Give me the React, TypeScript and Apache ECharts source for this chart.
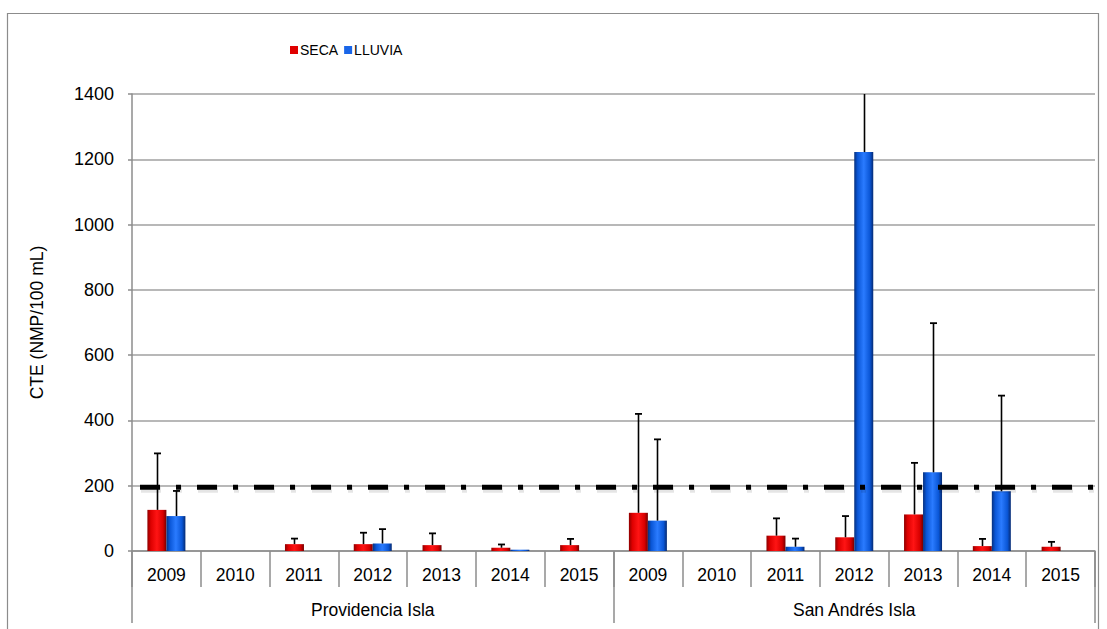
import React, { useEffect, useRef } from "react";
import * as echarts from "echarts";

// Sampling sites and years (two-level category axis)
const sites = ["Providencia Isla", "San Andrés Isla"];
const years = ["2009", "2010", "2011", "2012", "2013", "2014", "2015"];

// Mean CTE (NMP/100 mL) per site-year, Providencia first then San Andrés
const secaMean = [126, 0, 21, 21, 18, 10, 18, 117, 0, 47, 42, 112, 15, 13];
const secaSd = [173, 0, 17, 35, 36, 10, 19, 303, 0, 53, 65, 158, 22, 15];
const lluviaMean = [107, 0, 0, 23, 0, 4, 0, 93, 0, 13, 1222, 241, 183, 0];
const lluviaSd = [77, 0, 0, 44, 0, 0, 0, 249, 0, 25, 500, 457, 293, 0];

// Reference limit line
const limitValue = 200;

// Y axis ticks
const yMin = 0;
const yMax = 1400;
const yStep = 200;

const FONT = "Liberation Sans, Arial, sans-serif";
const BAR_W = 19;
const LIMIT_DASH = [20, 16, 5, 16];

const categories = sites.flatMap((s) => years.map((y) => `${s}|${y}`));

const redFill = new echarts.graphic.LinearGradient(0, 0, 1, 0, [
  { offset: 0, color: "#8e0000" },
  { offset: 0.18, color: "#dd0000" },
  { offset: 0.5, color: "#ff1414" },
  { offset: 0.82, color: "#d80000" },
  { offset: 1, color: "#760000" },
]);
const blueFill = new echarts.graphic.LinearGradient(0, 0, 1, 0, [
  { offset: 0, color: "#06307e" },
  { offset: 0.18, color: "#0a56d6" },
  { offset: 0.5, color: "#2a7bff" },
  { offset: 0.82, color: "#0a56d6" },
  { offset: 1, color: "#052a72" },
]);

function errorSeries(name: string, means: number[], sds: number[], offset: number) {
  return {
    type: "custom",
    name,
    xAxisIndex: 0,
    yAxisIndex: 0,
    clip: true,
    z: 5,
    silent: true,
    encode: { x: 0, y: 1 },
    data: means.map((m, i) => [i, m, m + sds[i]]),
    renderItem: (_params: any, api: any) => {
      const idx = api.value(0);
      const mean = api.value(1);
      const upper = api.value(2);
      if (!(upper > mean)) return null;
      const base = api.coord([idx, mean]);
      const top = api.coord([idx, upper]);
      const x = Math.round(base[0] + offset) + 0.5;
      return {
        type: "group",
        children: [
          {
            type: "line",
            shape: { x1: x, y1: base[1], x2: x, y2: top[1] },
            style: { stroke: "#000", lineWidth: 1.6 },
          },
          {
            type: "line",
            shape: { x1: x - 3.5, y1: top[1], x2: x + 3.5, y2: top[1] },
            style: { stroke: "#000", lineWidth: 1.8 },
          },
        ],
      };
    },
  };
}

export default function App() {
  const ref = useRef<HTMLDivElement>(null);

  useEffect(() => {
    document.body.style.margin = "0";
    if (!ref.current) return;
    const chart = echarts.init(ref.current, undefined, { renderer: "svg" });

    chart.setOption({
      animation: false,
      backgroundColor: "#ffffff",
      textStyle: { fontFamily: FONT },
      legend: {
        left: 285,
        top: 38,
        itemWidth: 8,
        itemHeight: 8,
        itemGap: 6,
        icon: "rect",
        textStyle: { fontSize: 14, color: "#000", fontFamily: FONT, padding: [0, 0, 0, -3] },
        data: [
          { name: "SECA", itemStyle: { color: "#e00000" } },
          { name: "LLUVIA", itemStyle: { color: "#1a66e8" } },
        ],
      },
      grid: { left: 132, right: 12, top: 94, bottom: 78, containLabel: false },
      xAxis: [
        {
          type: "category",
          position: "bottom",
          data: categories,
          axisLine: { show: true, lineStyle: { color: "#8c8c8c", width: 1.5 } },
          axisTick: { show: true, interval: 0, length: 36, lineStyle: { color: "#8c8c8c", width: 1.5 } },
          axisLabel: {
            interval: 0,
            margin: 15,
            fontSize: 17.5,
            color: "#000",
            fontFamily: FONT,
            formatter: (v: string) => v.split("|")[1],
          },
          splitLine: { show: false },
        },
        {
          type: "category",
          position: "bottom",
          data: sites,
          axisLine: { show: false },
          axisTick: { show: true, interval: 0, length: 72, lineStyle: { color: "#8c8c8c", width: 1.5 } },
          axisLabel: { interval: 0, margin: 50, fontSize: 17.5, color: "#000", fontFamily: FONT },
          splitLine: { show: false },
        },
      ],
      yAxis: {
        type: "value",
        min: yMin,
        max: yMax,
        interval: yStep,
        name: "CTE (NMP/100 mL)",
        nameLocation: "middle",
        nameGap: 86,
        nameRotate: 90,
        nameTextStyle: { fontSize: 17.5, color: "#000", fontFamily: FONT },
        axisLine: { show: true, lineStyle: { color: "#8c8c8c", width: 1.5 } },
        axisTick: { show: true, length: 4, lineStyle: { color: "#8c8c8c", width: 1.5 } },
        axisLabel: {
          fontSize: 18,
          color: "#000",
          margin: 18,
          fontFamily: FONT,
          formatter: (v: number) => String(v),
        },
        splitLine: { show: true, lineStyle: { color: "#a0a0a0", width: 1.5 } },
      },
      series: [
        {
          type: "bar",
          name: "SECA",
          barWidth: BAR_W,
          barGap: "0%",
          itemStyle: { color: redFill },
          data: secaMean,
        },
        {
          type: "bar",
          name: "LLUVIA",
          barWidth: BAR_W,
          barGap: "0%",
          itemStyle: { color: blueFill },
          data: lluviaMean,
        },
        errorSeries("SECA", secaMean, secaSd, -BAR_W / 2),
        errorSeries("LLUVIA", lluviaMean, lluviaSd, BAR_W / 2),
      ],
    });

    // Limit line (with a soft drop shadow) and the outer frame
    const pt = chart.convertToPixel({ gridIndex: 0 }, [0, limitValue]) as number[];
    const yLimit = pt[1];
    chart.setOption({
      graphic: [
        {
          type: "rect",
          shape: { x: 7.5, y: 13.5, width: 1091, height: 640 },
          style: { fill: "none", stroke: "#8c8c8c", lineWidth: 1.2 },
          silent: true,
          z: 0,
        },
        {
          type: "line",
          shape: { x1: 141, y1: yLimit + 4, x2: 1105, y2: yLimit + 4 },
          style: { stroke: "rgba(0,0,0,0.1)", lineWidth: 6, lineDash: LIMIT_DASH },
          silent: true,
          z: 9,
        },
        {
          type: "line",
          shape: { x1: 140, y1: yLimit + 1.5, x2: 1104, y2: yLimit + 1.5 },
          style: { stroke: "#000", lineWidth: 5, lineDash: LIMIT_DASH },
          silent: true,
          z: 10,
        },
      ],
    });

    return () => chart.dispose();
  }, []);

  return (
    <div
      ref={ref}
      style={{ position: "absolute", left: 0, top: 0, width: 1107, height: 629 }}
    />
  );
}
